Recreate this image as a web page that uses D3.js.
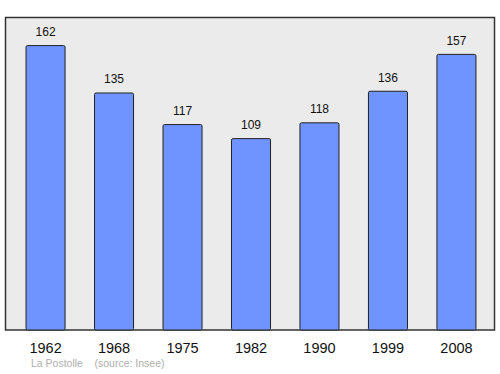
<!DOCTYPE html>
<html>
<head>
<meta charset="utf-8">
<script src="https://cdn.jsdelivr.net/npm/d3@7"></script>
<style>
  body { margin: 0; background: #fff; }
  text { font-family: "Liberation Sans", Arial, sans-serif; }
</style>
</head>
<body>
<div id="chart"></div>
<script>
// données : population par année de recensement
const years = ["1962", "1968", "1975", "1982", "1990", "1999", "2008"];
const population = [162, 135, 117, 109, 118, 136, 157];
const commune = "La Postolle";
const source = "(source: Insee)";

const width = 500, height = 374;
const frame = { left: 5.5, top: 17.5, right: 494.5, bottom: 330 };

const svg = d3.select("#chart").append("svg")
    .attr("width", width)
    .attr("height", height);

// cadre gris
svg.append("rect")
    .attr("x", frame.left)
    .attr("y", frame.top)
    .attr("width", frame.right - frame.left)
    .attr("height", frame.bottom - frame.top)
    .attr("fill", "#ebebeb")
    .attr("stroke", "#333")
    .attr("stroke-width", 1.5);

const x = d3.scaleBand()
    .domain(years)
    .range([5.5, 496.5])
    .paddingInner(0.43)
    .paddingOuter(0.3);

const y = d3.scaleLinear()
    .domain([0, 178])
    .range([frame.bottom, frame.top]);

svg.selectAll(".bar")
    .data(years)
    .join("rect")
    .attr("class", "bar")
    .attr("x", d => x(d))
    .attr("y", (d, i) => y(population[i]))
    .attr("width", x.bandwidth())
    .attr("height", (d, i) => y(0) - y(population[i]))
    .attr("rx", 1.5)
    .attr("fill", "#7094ff")
    .attr("stroke", "#222")
    .attr("stroke-width", 1);

// valeurs au-dessus des barres
svg.selectAll(".label")
    .data(years)
    .join("text")
    .attr("class", "label")
    .attr("x", d => x(d) + x.bandwidth() / 2)
    .attr("y", (d, i) => y(population[i]) - 9.5)
    .attr("text-anchor", "middle")
    .attr("font-size", 12)
    .attr("fill", "#111")
    .text((d, i) => population[i]);

// axe des années
svg.append("g")
    .attr("transform", `translate(0, ${frame.bottom})`)
    .call(d3.axisBottom(x).tickSize(0).tickPadding(0))
    .call(g => g.select(".domain").remove())
    .selectAll("text")
    .attr("y", 22.7)
    .attr("dy", null)
    .attr("font-size", 14.5)
    .attr("fill", "#111")
    .style("font-family", "Liberation Sans, Arial, sans-serif");

svg.append("text")
    .attr("x", 31)
    .attr("y", 367)
    .attr("font-size", 10.5)
    .attr("fill", "#b0b0b0")
    .text(commune);

svg.append("text")
    .attr("x", 94.5)
    .attr("y", 367)
    .attr("font-size", 10.5)
    .attr("fill", "#b0b0b0")
    .text(source);
</script>
</body>
</html>
